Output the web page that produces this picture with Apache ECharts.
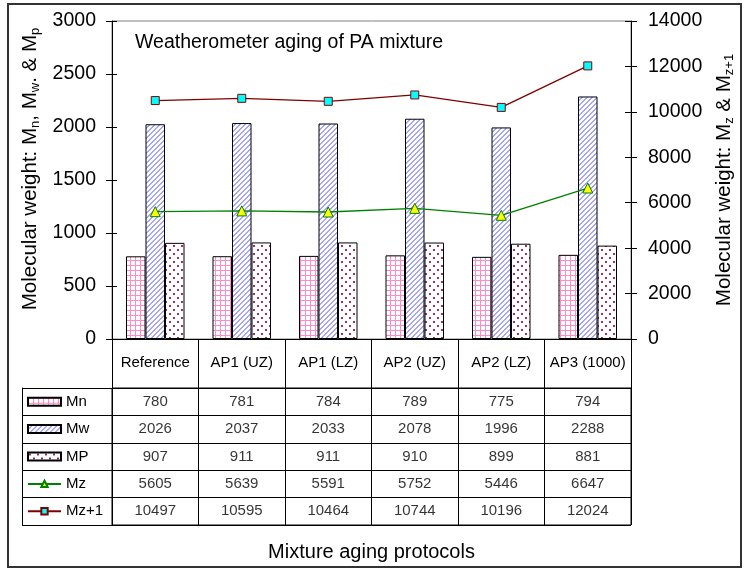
<!DOCTYPE html>
<html><head><meta charset="utf-8">
<script src="https://cdn.jsdelivr.net/npm/echarts@6/dist/echarts.min.js"></script>
<style>html,body{margin:0;padding:0;background:#fff}#c{width:746px;height:569px}</style>
</head><body><div id="c"></div>
<script>
// ---- data ----
const categories = ['Reference', 'AP1 (UZ)', 'AP1 (LZ)', 'AP2 (UZ)', 'AP2 (LZ)', 'AP3 (1000)'];
const seriesNames = ['Mn', 'Mw', 'MP', 'Mz', 'Mz+1'];
const Mn  = [780, 781, 784, 789, 775, 794];
const Mw  = [2026, 2037, 2033, 2078, 1996, 2288];
const MP  = [907, 911, 911, 910, 899, 881];
const Mz  = [5605, 5639, 5591, 5752, 5446, 6647];
const Mz1 = [10497, 10595, 10464, 10744, 10196, 12024];
const leftAxisMin = 0, leftAxisMax = 3000, leftAxisStep = 500;
const rightAxisMin = 0, rightAxisMax = 14000, rightAxisStep = 2000;

// ---- patterns ----
function pattern(kind) {
  const c = document.createElement('canvas');
  let n = kind === 'dots' ? 8 : 5;
  c.width = n; c.height = n;
  const ctx = c.getContext('2d');
  ctx.fillStyle = '#fff'; ctx.fillRect(0, 0, n, n);
  if (kind === 'grid') {
    ctx.fillStyle = '#FF8CC6';
    ctx.fillRect(0, 0, n, 1); ctx.fillRect(0, 0, 1, n);
  } else if (kind === 'diag') {
    ctx.fillStyle = '#A6A6FF';
    for (let i = 0; i < n; i++) {
      ctx.fillRect(i, n - 1 - i, 1, 1);
      ctx.fillRect(i, (2 * n - 2 - i) % n, 1, 1);
    }
  } else {
    ctx.fillStyle = '#993366';
    ctx.fillRect(1, 1, 2, 2); ctx.fillRect(5, 5, 2, 2);
  }
  return { image: c, repeat: 'repeat' };
}

const tableRows = [Mn, Mw, MP, Mz, Mz1];
const tableData = [];
tableRows.forEach((row, r) => row.forEach((v, c) => tableData.push([c, r, v])));

const FONT = 'Liberation Sans, Arial, sans-serif';
const chart = echarts.init(document.getElementById('c'), null, { renderer: 'canvas' });

const barBase = { type: 'bar', xAxisIndex: 0, yAxisIndex: 0, barWidth: 19.5, barGap: '0%' };
const subRich = { s: { fontSize: 13, lineHeight: 13, verticalAlign: 'bottom', fontFamily: FONT, color: '#000' } };

chart.setOption({
  animation: false,
  textStyle: { fontFamily: FONT, color: '#000' },
  title: [{
    text: 'Weatherometer aging of PA mixture', left: 135, top: 33, padding: 0,
    textStyle: { fontSize: 19.5, fontWeight: 'normal', color: '#000', fontFamily: FONT }
  }],
  graphic: [{
    type: 'rect', silent: true, z: -10,
    shape: { x: 8, y: 4, width: 733, height: 563 },
    style: { fill: 'none', stroke: '#333', lineWidth: 2 }
  }],
  legend: {
    orient: 'vertical', left: 27, top: 388, padding: 0,
    itemWidth: 33, itemHeight: 8, itemGap: 0, selectedMode: false,
    textStyle: { fontSize: 15, color: '#000', lineHeight: 27.4, fontFamily: FONT },
    data: [{ name: 'Mn', icon: 'rect' }, { name: 'Mw', icon: 'rect' }, { name: 'MP', icon: 'rect' }, { name: 'Mz' }, { name: 'Mz+1' }]
  },
  grid: [
    { left: 112, right: 115, top: 21, bottom: 230, show: true, borderColor: '#808080', borderWidth: 1, backgroundColor: 'transparent', outerBoundsMode: 'none' },
    { left: 112, right: 115, top: 388, bottom: 44, show: true, borderColor: '#000', borderWidth: 1, backgroundColor: 'transparent', outerBoundsMode: 'none' }
  ],
  xAxis: [
    {
      gridIndex: 0, type: 'category', data: categories,
      axisLine: { show: true, lineStyle: { color: '#000', width: 1 } },
      axisTick: { show: true, length: 49, interval: 0, lineStyle: { color: '#000' } },
      axisLabel: { fontSize: 15, color: '#000', margin: 24, verticalAlign: 'middle', interval: 0, fontFamily: FONT },
      splitLine: { show: false }
    },
    {
      gridIndex: 1, type: 'category', data: categories,
      axisLine: { show: false }, axisTick: { show: false }, axisLabel: { show: false },
      splitLine: { show: true, interval: 0, lineStyle: { color: '#000', width: 1 } },
      name: 'Mixture aging protocols', nameLocation: 'middle', nameGap: 17,
      nameTextStyle: { fontSize: 20, color: '#000', fontFamily: FONT }
    }
  ],
  yAxis: [
    {
      gridIndex: 0, type: 'value', position: 'left', min: leftAxisMin, max: leftAxisMax, interval: leftAxisStep,
      axisLine: { show: true, lineStyle: { color: '#000' } },
      axisTick: { show: true, length: 6, lineStyle: { color: '#000' } },
      axisLabel: { fontSize: 19.5, color: '#000', margin: 16, fontFamily: FONT, formatter: v => String(v) },
      splitLine: { show: false },
      name: 'Molecular weight: M{s|n}, M{s|w}. & M{s|p}', nameLocation: 'middle', nameRotate: 90, nameGap: 68,
      nameTextStyle: { fontSize: 20.5, color: '#000', lineHeight: 23, fontFamily: FONT, padding: [0, 0, 0, 22], rich: subRich }
    },
    {
      gridIndex: 0, type: 'value', position: 'right', min: rightAxisMin, max: rightAxisMax, interval: rightAxisStep,
      axisLine: { show: true, lineStyle: { color: '#000' } },
      axisTick: { show: true, length: 6, lineStyle: { color: '#000' } },
      axisLabel: { fontSize: 19.5, color: '#000', margin: 17, fontFamily: FONT, formatter: v => String(v) },
      splitLine: { show: false },
      name: 'Molecular weight: M{s|z} & M{s|z+1}', nameLocation: 'middle', nameRotate: 90, nameGap: 78,
      nameTextStyle: { fontSize: 20.5, color: '#000', lineHeight: 23, fontFamily: FONT, rich: subRich }
    },
    {
      gridIndex: 1, type: 'category', data: seriesNames, inverse: true, position: 'left',
      axisLine: { show: true, lineStyle: { color: '#000' } },
      axisTick: { show: true, length: 90, interval: 0, lineStyle: { color: '#000' } },
      axisLabel: { show: false },
      splitLine: { show: true, interval: 0, lineStyle: { color: '#000', width: 1 } }
    },
    {
      gridIndex: 1, type: 'category', data: seriesNames, inverse: true, position: 'left', offset: 90,
      axisLine: { show: true, lineStyle: { color: '#000' } },
      axisTick: { show: false }, axisLabel: { show: false }, splitLine: { show: false }
    },
    {
      gridIndex: 0, type: 'value', position: 'left', min: leftAxisMin, max: leftAxisMax, interval: leftAxisStep,
      axisLine: { show: false }, axisLabel: { show: false }, splitLine: { show: false },
      axisTick: { show: true, inside: true, length: 5, lineStyle: { color: '#000' } }
    },
    {
      gridIndex: 0, type: 'value', position: 'right', min: rightAxisMin, max: rightAxisMax, interval: rightAxisStep,
      axisLine: { show: false }, axisLabel: { show: false }, splitLine: { show: false },
      axisTick: { show: true, inside: true, length: 6, lineStyle: { color: '#000' } }
    }
  ],
  series: [
    Object.assign({ name: 'Mn', data: Mn, itemStyle: { color: pattern('grid'), borderColor: '#000', borderWidth: 1 } }, barBase),
    Object.assign({ name: 'Mw', data: Mw, itemStyle: { color: pattern('diag'), borderColor: '#000', borderWidth: 1 } }, barBase),
    Object.assign({ name: 'MP', data: MP, itemStyle: { color: pattern('dots'), borderColor: '#000', borderWidth: 1 } }, barBase),
    {
      name: 'Mz', type: 'line', xAxisIndex: 0, yAxisIndex: 1, data: Mz,
      symbol: 'triangle', symbolSize: 10,
      lineStyle: { color: '#008000', width: 1.3 },
      itemStyle: { color: '#FFFF00', borderColor: '#008000', borderWidth: 1 }
    },
    {
      name: 'Mz+1', type: 'line', xAxisIndex: 0, yAxisIndex: 1, data: Mz1,
      symbol: 'rect', symbolSize: 8,
      lineStyle: { color: '#800000', width: 1.3 },
      itemStyle: { color: '#00FFFF', borderColor: '#800000', borderWidth: 1 }
    },
    {
      name: 'table', type: 'scatter', xAxisIndex: 1, yAxisIndex: 2, data: tableData,
      symbol: 'rect', symbolSize: 1, silent: true,
      itemStyle: { color: 'rgba(0,0,0,0)' },
      label: { show: true, position: 'inside', formatter: p => String(p.value[2]), fontSize: 15, color: '#000', fontFamily: FONT }
    }
  ]
});
</script>
</body></html>
